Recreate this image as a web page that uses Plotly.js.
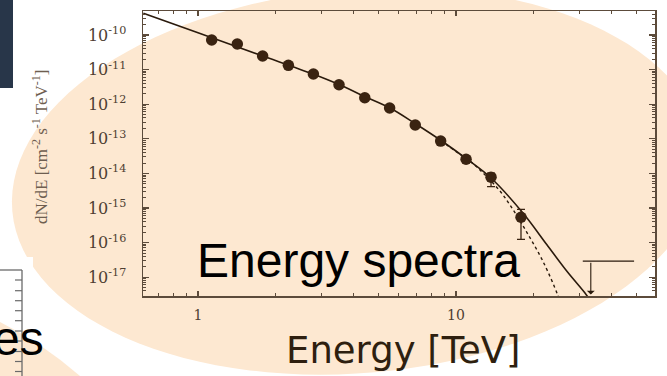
<!DOCTYPE html>
<html>
<head>
<meta charset="utf-8">
<script src="https://cdn.plot.ly/plotly-3.0.1.min.js"></script>
<style>html,body{margin:0;padding:0;background:#fff;}#chart{width:667px;height:376px;}</style>
</head>
<body>
<div id="chart"></div>
<script>
// ---- data ----
const dataE = [1.13, 1.42, 1.78, 2.24, 2.80, 3.52, 4.43, 5.53, 6.95, 8.72, 10.94, 13.67, 17.86];
const dataF = [7.2e-11, 5.5e-11, 2.47e-11, 1.33e-11, 7.46e-12, 3.66e-12, 1.54e-12, 7.76e-13, 2.5e-13, 8.6e-14, 2.56e-14, 7.8e-15, 5.4e-16];
const errHigh = [null, null, null, null, null, null, null, null, null, null, null, 1.01e-14, 9.1e-16];
const errLow  = [null, null, null, null, null, null, null, null, null, null, null, 4.13e-15, 1.24e-16];

const fitE = [0.614, 1.0, 1.739, 2.79, 3.52, 4.43, 5.55, 6.94, 8.75, 10.94, 13.67, 18.24, 22.47, 26.86, 31.62, 33.05];
const fitF = [4.24e-10, 1.16e-10, 2.64e-11, 7.46e-12, 3.71e-12, 1.67e-12, 7.76e-13, 2.77e-13, 8.93e-14, 2.70e-14, 7.36e-15, 6.93e-16, 8.8e-17, 1.51e-17, 3.49e-18, 2.19e-18];

const cutE = [8.75, 10.06, 11.33, 12.39, 13.55, 14.81, 16.19, 18.79, 21.79, 24.7, 25.1];
const cutF = [8.93e-14, 4.15e-14, 2.28e-14, 1.25e-14, 6.44e-15, 3.1e-15, 1.22e-15, 2.02e-16, 2.75e-17, 3.27e-18, 2.19e-18];

const ulE = 33.3;
const ulF = 2.9e-17;
const ulBarE = [31.0, 49.0];

const xTickVals = [1, 10];
const xTickText = ['1', '10'];
const yExponents = [-10, -11, -12, -13, -14, -15, -16, -17];

// ---- layout geometry ----
const ML = 143, MT = 11, PW = 512, PH = 285;
const FW = 667, FH = 376;
const px = v => (v - ML) / PW;
const py = v => 1 - (v - MT) / PH;

const xRange = [-0.2132, 1.7713];
const yRange = [-17.543, -9.306];

// decorative slide background (tilted ellipse)
function ellipsePath(cx, cy, a, b, degUp, n) {
  const th = degUp * Math.PI / 180;
  const ux = Math.cos(th), uy = -Math.sin(th);
  const vx = Math.sin(th), vy = Math.cos(th);
  let s = '';
  for (let i = 0; i <= n; i++) {
    const t = 2 * Math.PI * i / n;
    const X = cx + a * Math.cos(t) * ux + b * Math.sin(t) * vx;
    const Y = cy + a * Math.cos(t) * uy + b * Math.sin(t) * vy;
    s += (i === 0 ? 'M' : 'L') + px(X).toFixed(5) + ',' + py(Y).toFixed(5);
  }
  return s + 'Z';
}
const PEACH = '#fde8d1';

const shapes = [];
shapes.push({type: 'path', xref: 'paper', yref: 'paper', layer: 'below',
  path: ellipsePath(358, 181, 347, 192, 5, 120), fillcolor: PEACH, line: {width: 0}});
shapes.push({type: 'rect', xref: 'paper', yref: 'paper', layer: 'below',
  x0: px(0), x1: px(33), y0: py(257), y1: py(376), fillcolor: '#ffffff', line: {width: 0}});
shapes.push({type: 'path', xref: 'paper', yref: 'paper', layer: 'below',
  path: 'M' + px(0) + ',' + py(322) + ' Q' + px(42) + ',' + py(343) + ' ' + px(80) + ',' + py(376) +
        ' L' + px(0) + ',' + py(376) + ' Z', fillcolor: PEACH, line: {width: 0}});
shapes.push({type: 'rect', xref: 'paper', yref: 'paper', layer: 'below',
  x0: px(0), x1: px(13), y0: py(0), y1: py(88), fillcolor: '#283649', line: {width: 0}});
// partial axis of another slide picture (bottom-left)
const gray = '#6a6a6a';
shapes.push({type: 'line', xref: 'paper', yref: 'paper', layer: 'below',
  x0: px(22), x1: px(22), y0: py(270), y1: py(376), line: {color: gray, width: 1.3}});
shapes.push({type: 'line', xref: 'paper', yref: 'paper', layer: 'below',
  x0: px(0), x1: px(22), y0: py(270), y1: py(270), line: {color: gray, width: 1.3}});
[280, 290.7, 300.7, 310.7, 320.7, 331, 341, 351.5, 361.5, 371.5].forEach(t => {
  shapes.push({type: 'line', xref: 'paper', yref: 'paper', layer: 'below',
    x0: px(15), x1: px(22), y0: py(t), y1: py(t), line: {color: gray, width: 1.2}});
});

// ---- ticks ----
const yTickVals = yExponents.map(e => Math.pow(10, e));
const yTickText = yExponents.map(e => '10<sup>' + e + '</sup>');
const yMinor = [];
for (let e = -18; e <= -10; e++) for (let k = 2; k <= 9; k++) yMinor.push(k * Math.pow(10, e));
const xMinor = [0.7, 0.8, 0.9, 2, 3, 4, 5, 6, 7, 8, 9, 20, 30, 40, 50];

const FRAME = '#5c4b3b';
const INK = '#2a1a0c';
const DOT = '#3a2311';

const traces = [
  {x: fitE, y: fitF, type: 'scatter', mode: 'lines', line: {color: INK, width: 1.6, shape: 'spline'}, hoverinfo: 'skip'},
  {x: cutE, y: cutF, type: 'scatter', mode: 'lines', line: {color: INK, width: 1.4, dash: 'dot', shape: 'spline'}, hoverinfo: 'skip'},
  {x: dataE, y: dataF, type: 'scatter', mode: 'markers',
   marker: {color: DOT, size: 11.5, line: {width: 0}},
   error_y: {type: 'data', symmetric: false,
     array: errHigh.map((h, i) => h === null ? null : h - dataF[i]),
     arrayminus: errLow.map((l, i) => l === null ? null : dataF[i] - l),
     color: DOT, thickness: 1.3, width: 4}},
  {x: ulBarE, y: [ulF, ulF], type: 'scatter', mode: 'lines', line: {color: INK, width: 1.2}, hoverinfo: 'skip'}
];

const annotations = [
  {xref: 'x', yref: 'y', axref: 'x', ayref: 'y',
   x: Math.log10(ulE), y: yRange[0] + 0.04, ax: Math.log10(ulE), ay: Math.log10(ulF),
   showarrow: true, arrowhead: 1, arrowsize: 1.2, arrowwidth: 1.1, arrowcolor: INK, text: ''},
  {xref: 'paper', yref: 'paper', x: px(40), y: py(147), xanchor: 'center', yanchor: 'middle',
   textangle: -90, showarrow: false,
   text: 'dN/dE [cm<sup>-2</sup> s<sup>-1</sup> TeV<sup>-1</sup>]',
   font: {family: 'Liberation Serif', size: 17, color: '#6e5e50'}},
  {xref: 'paper', yref: 'paper', x: px(195), y: py(260), xanchor: 'left', yanchor: 'middle', showarrow: false,
   text: 'Energy spectra', font: {family: 'Liberation Sans', size: 48, color: '#000000'}},
  {xref: 'paper', yref: 'paper', x: px(403.5), y: py(350), xanchor: 'center', yanchor: 'middle', showarrow: false,
   text: 'Energy [TeV]', font: {family: 'DejaVu Sans', size: 37, color: '#2e1f0f'}},
  {xref: 'paper', yref: 'paper', x: px(46), y: py(338), xanchor: 'right', yanchor: 'middle', showarrow: false,
   text: 'es', font: {family: 'Liberation Sans', size: 48, color: '#000000'}}
];

const layout = {
  width: FW, height: FH,
  margin: {l: ML, r: FW - ML - PW, t: MT, b: FH - MT - PH, pad: 0},
  paper_bgcolor: '#ffffff', plot_bgcolor: 'rgba(0,0,0,0)',
  showlegend: false,
  xaxis: {type: 'log', range: xRange, showgrid: false, zeroline: false,
    showline: true, linecolor: FRAME, linewidth: 1.5, mirror: 'allticks',
    ticks: 'inside', ticklen: 5, tickwidth: 1.2, tickcolor: FRAME,
    tickmode: 'array', tickvals: xTickVals, ticktext: xTickText, ticklabelstandoff: 6,
    tickfont: {family: 'DejaVu Serif', size: 14, color: '#4d3e32'},
    minor: {tickmode: 'array', tickvals: xMinor, ticks: 'inside', ticklen: 3, tickwidth: 1, tickcolor: FRAME, showgrid: false}},
  yaxis: {type: 'log', range: yRange, showgrid: false, zeroline: false,
    showline: true, linecolor: FRAME, linewidth: 1.5, mirror: 'allticks',
    ticks: 'inside', ticklen: 6, tickwidth: 1.2, tickcolor: FRAME,
    tickmode: 'array', tickvals: yTickVals, ticktext: yTickText, ticklabelstandoff: 12,
    tickfont: {family: 'DejaVu Serif', size: 16, color: '#4d3e32'},
    minor: {tickmode: 'array', tickvals: yMinor, ticks: 'inside', ticklen: 3, tickwidth: 1, tickcolor: FRAME, showgrid: false}},
  shapes: shapes,
  annotations: annotations
};

Plotly.newPlot('chart', traces, layout, {displayModeBar: false, staticPlot: true});
</script>
</body>
</html>
